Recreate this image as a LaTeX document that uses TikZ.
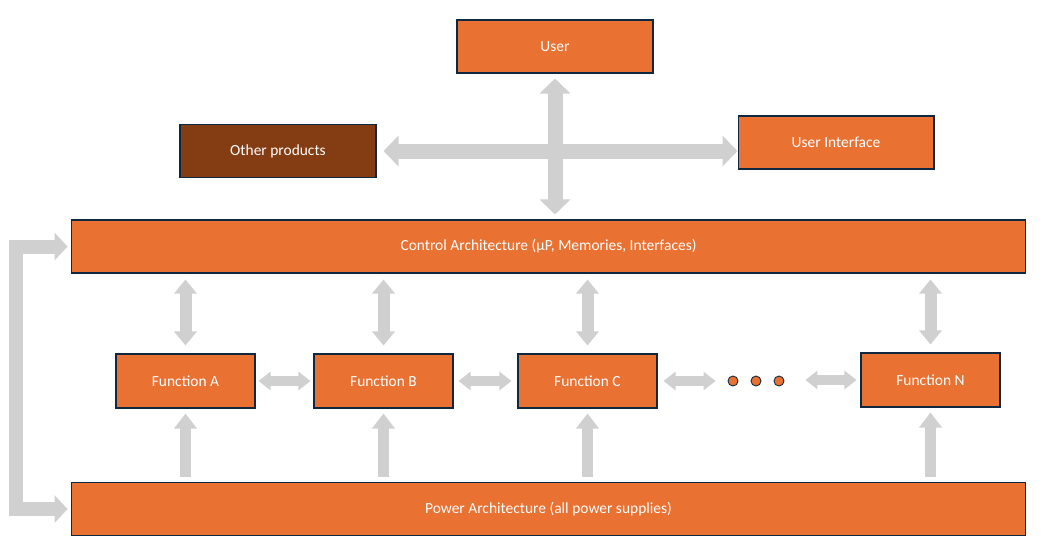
\documentclass[tikz,border=0pt]{standalone}
\usepackage{fontspec}
\setmainfont{Carlito}
\usetikzlibrary{arrows.meta}

\definecolor{boxorange}{HTML}{E97132}
\definecolor{boxbrown}{HTML}{843C12}
\definecolor{boxedge}{HTML}{0E2841}
\definecolor{arrowgray}{HTML}{D0D0D0}

\tikzset{
    box/.style={draw=boxedge, line width=0.6pt, fill=boxorange, text=white,
        inner sep=0pt, minimum height=1.06cm, font=\fontsize{8.8}{10}\selectfont},
    topbox/.style={box, minimum width=3.92cm},
    widebox/.style={box, minimum width=19.1cm},
    funcbox/.style={box, minimum width=2.78cm, minimum height=1.08cm},
    dotnode/.style={circle, draw=boxedge, line width=0.5pt, fill=boxorange,
        inner sep=0pt, minimum size=0.2cm},
    bigarrow/.style={draw=arrowgray, line width=0.3cm,
        {Triangle[width=0.6cm,length=0.3cm]}-{Triangle[width=0.6cm,length=0.3cm]}},
    vertarrow/.style={draw=arrowgray, line width=0.24cm,
        {Triangle[width=0.44cm,length=0.28cm]}-{Triangle[width=0.44cm,length=0.28cm]}},
    horiarrow/.style={draw=arrowgray, line width=0.2cm,
        {Triangle[width=0.36cm,length=0.24cm]}-{Triangle[width=0.36cm,length=0.24cm]}},
    uparrow/.style={draw=arrowgray, line width=0.22cm,
        -{Triangle[width=0.44cm,length=0.3cm]}},
    loopArrow/.style={draw=arrowgray, line width=0.28cm, line join=miter,
        {Triangle[width=0.54cm,length=0.26cm]}-{Triangle[width=0.54cm,length=0.26cm]}},
}

\begin{document}
\begin{tikzpicture}[x=0.02cm, y=-0.02cm]
    \useasboundingbox (0,0) rectangle (1045,552);

    % top part
    \node[topbox] (user)  at (555, 46.5) {User};
    \node[topbox, fill=boxbrown] (other) at (278, 151) {Other products};
    \node[topbox] (ui)    at (836, 142.5) {User Interface};

    \node[widebox] (ctrl) at (548.5, 246.5) {Control Architecture (µP, Memories, Interfaces)};
    \node[widebox] (pwr)  at (548.5, 509) {Power Architecture (all power supplies)};

    % functions
    \node[funcbox] (fa) at (185.5, 381) {Function A};
    \node[funcbox] (fb) at (383.5, 381) {Function B};
    \node[funcbox] (fc) at (587.5, 381) {Function C};
    \node[funcbox] (fn) at (930.5, 380) {Function N};

    \node[dotnode] (d1) at (733, 381) {};
    \node[dotnode] (d2) at (756, 381) {};
    \node[dotnode] (d3) at (779, 381) {};

    \coordinate (lb) at (16, 0);

    % the cross
    \draw[bigarrow, shorten <=0.1cm, shorten >=0.1cm] (user.south) -- (user.south |- ctrl.north);
    \draw[bigarrow, shorten <=0.14cm] (other.east) -- (other.east -| ui.west);

    % control <-> functions
    \foreach \f in {fa, fb, fc, fn}
        \draw[vertarrow, shorten <=0.12cm, shorten >=0.16cm] (\f.north |- ctrl.south) -- (\f.north);

    % power -> functions
    \foreach \f in {fa, fb, fc, fn}
        \draw[uparrow, shorten <=0.1cm, shorten >=0.1cm] (\f.south |- pwr.north) -- (\f.south);

    % between functions
    \draw[horiarrow, shorten <=0.06cm, shorten >=0.06cm] (fa.east) -- (fb.west);
    \draw[horiarrow, shorten <=0.1cm, shorten >=0.12cm] (fb.east) -- (fc.west);
    \draw[horiarrow, shorten <=0.12cm, shorten >=0.24cm] (fc.east) -- (d1.west |- fc.east);
    \draw[horiarrow, shorten <=0.42cm, shorten >=0.08cm] (d3.east |- fn.west) -- (fn.west);

    % loop on the left
    \draw[loopArrow, shorten <=0.06cm, shorten >=0.06cm] (ctrl.west) -- (ctrl.west -| lb)
        -- (pwr.west -| lb) -- (pwr.west);

\end{tikzpicture}
\end{document}
